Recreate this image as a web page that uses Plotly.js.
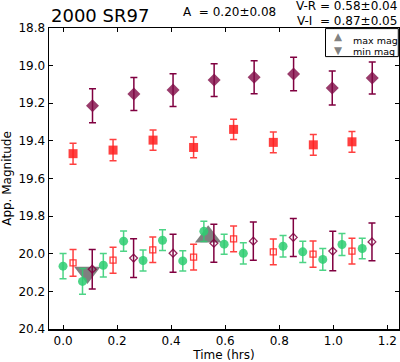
<!DOCTYPE html>
<html>
<head>
<meta charset="utf-8">
<script src="https://cdn.plot.ly/plotly-3.0.1.min.js"></script>
<style>html,body{margin:0;padding:0;background:#fff}#chart{width:400px;height:362px}</style>
</head>
<body>
<div id="chart"></div>
<script>
// Green filled circles
var greenT = [0.000, 0.072, 0.149, 0.224, 0.296, 0.368, 0.443, 0.521, 0.596, 0.667, 0.814, 0.887, 0.961, 1.032, 1.107];
var greenM = [20.066, 20.147, 20.061, 19.933, 20.036, 19.928, 20.038, 19.881, 19.949, 19.998, 19.960, 19.990, 20.030, 19.951, 19.972];
var greenE = [0.067, 0.068, 0.062, 0.054, 0.056, 0.055, 0.054, 0.054, 0.053, 0.056, 0.057, 0.057, 0.058, 0.058, 0.054];

// Red open squares (lower group)
var redOpenT = [0.037, 0.185, 0.332, 0.483, 0.631, 0.778, 0.925, 1.069];
var redOpenM = [20.048, 20.034, 19.979, 20.018, 19.921, 19.990, 20.002, 19.986];
var redOpenE = [0.071, 0.069, 0.068, 0.069, 0.068, 0.068, 0.070, 0.068];

// Purple open diamonds (lower group)
var purOpenT = [0.108, 0.261, 0.407, 0.558, 0.704, 0.852, 0.998, 1.143];
var purOpenM = [20.082, 20.023, 19.997, 19.944, 19.933, 19.913, 19.986, 19.937];
var purOpenE = [0.105, 0.103, 0.101, 0.101, 0.102, 0.101, 0.105, 0.100];

// Red filled squares
var redT = [0.037, 0.185, 0.333, 0.483, 0.631, 0.778, 0.926, 1.069];
var redM = [19.468, 19.449, 19.396, 19.435, 19.339, 19.408, 19.421, 19.405];
var redE = [0.056, 0.056, 0.054, 0.055, 0.054, 0.055, 0.055, 0.055];

// Purple filled diamonds
var purT = [0.109, 0.262, 0.407, 0.559, 0.707, 0.853, 0.996, 1.144];
var purM = [19.213, 19.151, 19.130, 19.077, 19.062, 19.045, 19.119, 19.066];
var purE = [0.090, 0.088, 0.087, 0.087, 0.088, 0.089, 0.090, 0.085];

// Max / min magnitude markers
var maxT = [0.537];
var maxM = [19.91];
var minT = [0.090];
var minM = [20.10];

var xTicks = [0.0, 0.2, 0.4, 0.6, 0.8, 1.0, 1.2];
var yTicks = [18.8, 19.0, 19.2, 19.4, 19.6, 19.8, 20.0, 20.2, 20.4];
var legendLabels = ['max mag', 'min mag'];

var GREEN = 'rgba(46,204,113,0.85)';
var RED = 'rgba(255,30,30,0.85)';
var PURPLE = 'rgba(128,10,70,0.8)';
var PURPLE_D = 'rgb(128,0,64)';
var GRAY = 'rgba(95,95,95,0.8)';

function eb(arr, col) {
  return {type: 'data', array: arr, visible: true, color: col, thickness: 1.5, width: 3.5};
}

var traces = [
  {x: maxT, y: maxM, mode: 'markers', name: legendLabels[0], showlegend: false,
   marker: {symbol: 'triangle-up', size: 23, color: GRAY, line: {width: 0}}},
  {x: minT, y: minM, mode: 'markers', name: legendLabels[1], showlegend: false,
   marker: {symbol: 'triangle-down', size: 23, color: GRAY, line: {width: 0}}},
  {x: greenT, y: greenM, mode: 'markers', showlegend: false,
   marker: {symbol: 'circle', size: 9, color: GREEN, line: {width: 0}},
   error_y: eb(greenE, GREEN)},
  {x: redOpenT, y: redOpenM, mode: 'markers', showlegend: false,
   marker: {symbol: 'square-open', size: 6, color: RED, line: {width: 1.3}},
   error_y: eb(redOpenE, RED)},
  {x: purOpenT, y: purOpenM, mode: 'markers', showlegend: false,
   marker: {symbol: 'diamond-open', size: 6, color: 'rgba(128,0,64,0.85)', line: {width: 1.3}},
   error_y: eb(purOpenE, PURPLE_D)},
  {x: redT, y: redM, mode: 'markers', showlegend: false,
   marker: {symbol: 'square', size: 9, color: RED, line: {width: 0}},
   error_y: eb(redE, RED)},
  {x: purT, y: purM, mode: 'markers', showlegend: false,
   marker: {symbol: 'diamond', size: 10, color: PURPLE, line: {width: 0}},
   error_y: eb(purE, PURPLE_D)}
];

var FONT = 'DejaVu Sans, sans-serif';

var layout = {
  width: 400, height: 362,
  margin: {l: 49, r: 1, t: 28, b: 33, pad: 0},
  paper_bgcolor: '#fff', plot_bgcolor: '#fff',
  font: {family: FONT, size: 12, color: '#000'},
  showlegend: false,
  xaxis: {range: [-0.052, 1.243], tickvals: xTicks, ticktext: xTicks.map(function(v){return v.toFixed(1);}),
          ticks: 'inside', ticklen: 4, tickwidth: 1, tickcolor: '#000', mirror: 'allticks',
          showline: true, linecolor: '#000', linewidth: 1.5, showgrid: false, zeroline: false,
          tickfont: {size: 12}, title: {text: 'Time (hrs)', font: {size: 12}, standoff: 4}},
  yaxis: {range: [20.4, 18.8], tickvals: yTicks, ticktext: yTicks.map(function(v){return v.toFixed(1);}),
          ticks: 'inside', ticklen: 4, tickwidth: 1, tickcolor: '#000', mirror: 'allticks',
          showline: true, linecolor: '#000', linewidth: 1.5, showgrid: false, zeroline: false,
          tickfont: {size: 12}, title: {text: 'App. Magnitude', font: {size: 12}, standoff: 6}},
  shapes: [
    {type: 'rect', xref: 'paper', yref: 'paper', x0: 0.79, x1: 0.998, y0: 0.905, y1: 0.998,
     line: {color: '#000', width: 1}, fillcolor: '#fff', layer: 'above'}
  ],
  annotations: [
    {xref: 'paper', yref: 'paper', x: 0, y: 1, xanchor: 'left', yanchor: 'bottom', yshift: 0,
     text: '2000 SR97', showarrow: false, font: {size: 18}},
    {xref: 'paper', yref: 'paper', x: 0.516, y: 1, xanchor: 'center', yanchor: 'bottom', yshift: 7,
     text: 'A  = 0.20±0.08', showarrow: false, font: {size: 12}},
    {xref: 'paper', yref: 'paper', x: 1, y: 1, xanchor: 'right', yanchor: 'bottom', yshift: 13,
     text: 'V-R = 0.58±0.04', showarrow: false, font: {size: 12}},
    {xref: 'paper', yref: 'paper', x: 1, y: 1, xanchor: 'right', yanchor: 'bottom', yshift: -2,
     text: 'V-I  = 0.87±0.05', showarrow: false, font: {size: 12}},
    // legend symbols and labels
    {xref: 'paper', yref: 'paper', x: 0.8266, y: 0.9515, xanchor: 'center', yanchor: 'middle',
     text: '▲<br>▼', showarrow: false, borderpad: 0, font: {size: 10.5, color: GRAY}},
    {xref: 'paper', yref: 'paper', x: 0.866, y: 0.9585, xanchor: 'left', yanchor: 'middle',
     text: legendLabels[0], showarrow: false, borderpad: 0, font: {size: 9.5}},
    {xref: 'paper', yref: 'paper', x: 0.866, y: 0.9235, xanchor: 'left', yanchor: 'middle',
     text: legendLabels[1], showarrow: false, borderpad: 0, font: {size: 9.5}}
  ]
};

Plotly.newPlot('chart', traces, layout, {displayModeBar: false, staticPlot: true});
</script>
</body>
</html>
